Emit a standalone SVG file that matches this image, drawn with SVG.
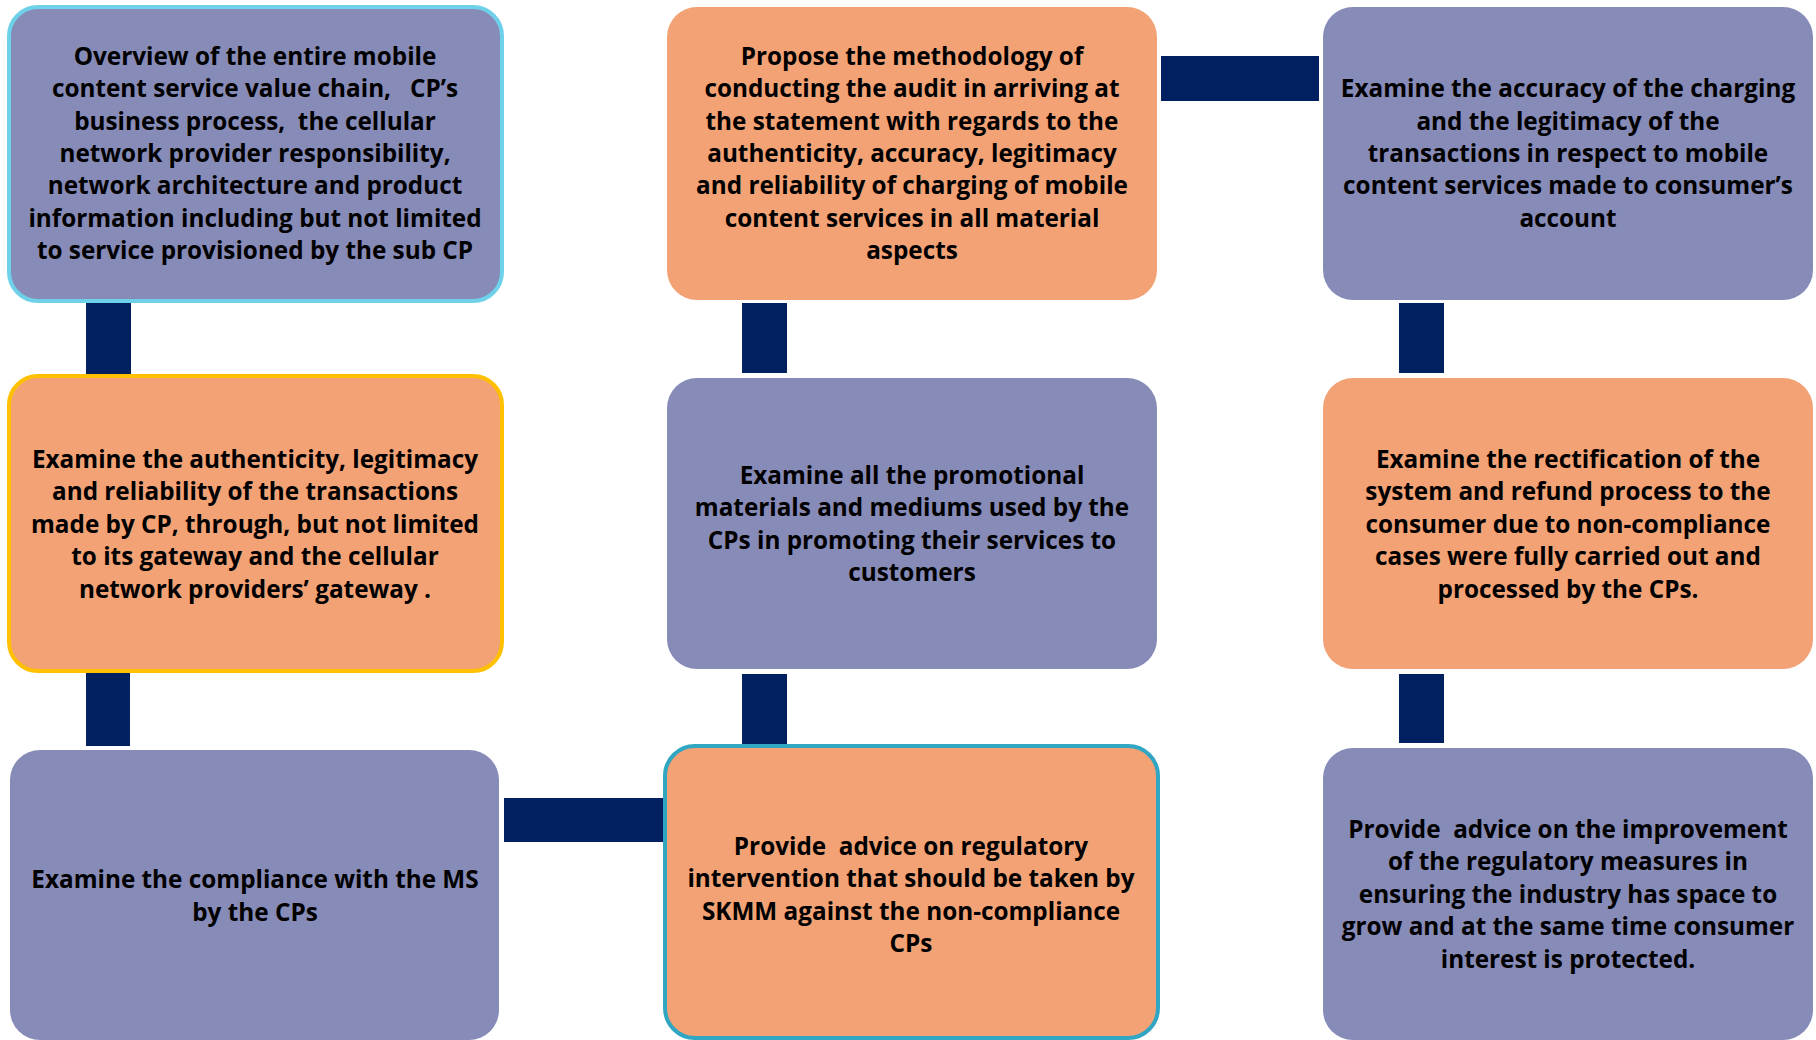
<svg xmlns="http://www.w3.org/2000/svg" width="1816" height="1040" viewBox="0 0 1816 1040">
<style>
.purple{fill:#878BB7}
.orange{fill:#F2A275}
.conn{fill:#002060}
text{font-family:"Open Sans",Lato,"Liberation Sans",sans-serif;font-weight:bold;font-size:24.3px;fill:#000;text-anchor:middle}
</style>
<rect width="1816" height="1040" fill="#fff"/>
<g id="connectors">
<rect class="conn" x="86" y="303" width="45" height="71"/>
<rect class="conn" x="742" y="303" width="45" height="70"/>
<rect class="conn" x="1399" y="303" width="45" height="70"/>
<rect class="conn" x="1161" y="56" width="158" height="45"/>
<rect class="conn" x="86" y="673" width="44" height="73"/>
<rect class="conn" x="742" y="674" width="45" height="70"/>
<rect class="conn" x="1399" y="674" width="45" height="69"/>
<rect class="conn" x="504" y="798" width="159" height="44"/>
</g>
<g id="n1">
<rect class="purple" x="9" y="7" width="493" height="294" rx="29" stroke="#6FD1E9" stroke-width="4"/>
<text x="255" y="65">Overview of the entire mobile</text>
<text x="255" y="97.3" xml:space="preserve">content service value chain,   CP’s</text>
<text x="255" y="129.6" xml:space="preserve">business process,  the cellular</text>
<text x="255" y="162">network provider responsibility,</text>
<text x="255" y="194.3">network architecture and product</text>
<text x="255" y="226.6">information including but not limited</text>
<text x="255" y="259">to service provisioned by the sub CP</text>
</g>
<g id="n2">
<rect class="orange" x="667" y="7" width="490" height="293" rx="30"/>
<text x="912" y="65">Propose the methodology of</text>
<text x="912" y="97.3">conducting the audit in arriving at</text>
<text x="912" y="129.6">the statement with regards to the</text>
<text x="912" y="162">authenticity, accuracy, legitimacy</text>
<text x="912" y="194.3">and reliability of charging of mobile</text>
<text x="912" y="226.6">content services in all material</text>
<text x="912" y="259">aspects</text>
</g>
<g id="n3">
<rect class="purple" x="1323" y="7" width="490" height="293" rx="30"/>
<text x="1568" y="97.3">Examine the accuracy of the charging</text>
<text x="1568" y="129.6">and the legitimacy of the</text>
<text x="1568" y="162">transactions in respect to mobile</text>
<text x="1568" y="194.3">content services made to consumer’s</text>
<text x="1568" y="226.6">account</text>
</g>
<g id="n4">
<rect class="orange" x="9" y="376" width="493" height="295" rx="29" stroke="#FFC000" stroke-width="4"/>
<text x="255" y="468">Examine the authenticity, legitimacy</text>
<text x="255" y="500.4">and reliability of the transactions</text>
<text x="255" y="532.8">made by CP, through, but not limited</text>
<text x="255" y="565.2">to its gateway and the cellular</text>
<text x="255" y="597.7">network providers’ gateway .</text>
</g>
<g id="n5">
<rect class="purple" x="667" y="378" width="490" height="291" rx="30"/>
<text x="912" y="484">Examine all the promotional</text>
<text x="912" y="516.4">materials and mediums used by the</text>
<text x="912" y="548.8">CPs in promoting their services to</text>
<text x="912" y="581.2">customers</text>
</g>
<g id="n6">
<rect class="orange" x="1323" y="378" width="490" height="291" rx="30"/>
<text x="1568" y="468">Examine the rectification of the</text>
<text x="1568" y="500.4">system and refund process to the</text>
<text x="1568" y="532.8">consumer due to non-compliance</text>
<text x="1568" y="565.2">cases were fully carried out and</text>
<text x="1568" y="597.7">processed by the CPs.</text>
</g>
<g id="n7">
<rect class="purple" x="10" y="750" width="489" height="290" rx="30"/>
<text x="255" y="888.3">Examine the compliance with the MS</text>
<text x="255" y="920.7">by the CPs</text>
</g>
<g id="n8">
<rect class="orange" x="665" y="746" width="493" height="292" rx="30" stroke="#31A6C2" stroke-width="4"/>
<text x="911" y="854.7" xml:space="preserve">Provide  advice on regulatory</text>
<text x="911" y="887.1">intervention that should be taken by</text>
<text x="911" y="919.5">SKMM against the non-compliance</text>
<text x="911" y="951.9">CPs</text>
</g>
<g id="n9">
<rect class="purple" x="1323" y="748" width="490" height="292" rx="30"/>
<text x="1568" y="838" xml:space="preserve">Provide  advice on the improvement</text>
<text x="1568" y="870.4">of the regulatory measures in</text>
<text x="1568" y="902.8">ensuring the industry has space to</text>
<text x="1568" y="935.2">grow and at the same time consumer</text>
<text x="1568" y="967.6">interest is protected.</text>
</g>
</svg>
